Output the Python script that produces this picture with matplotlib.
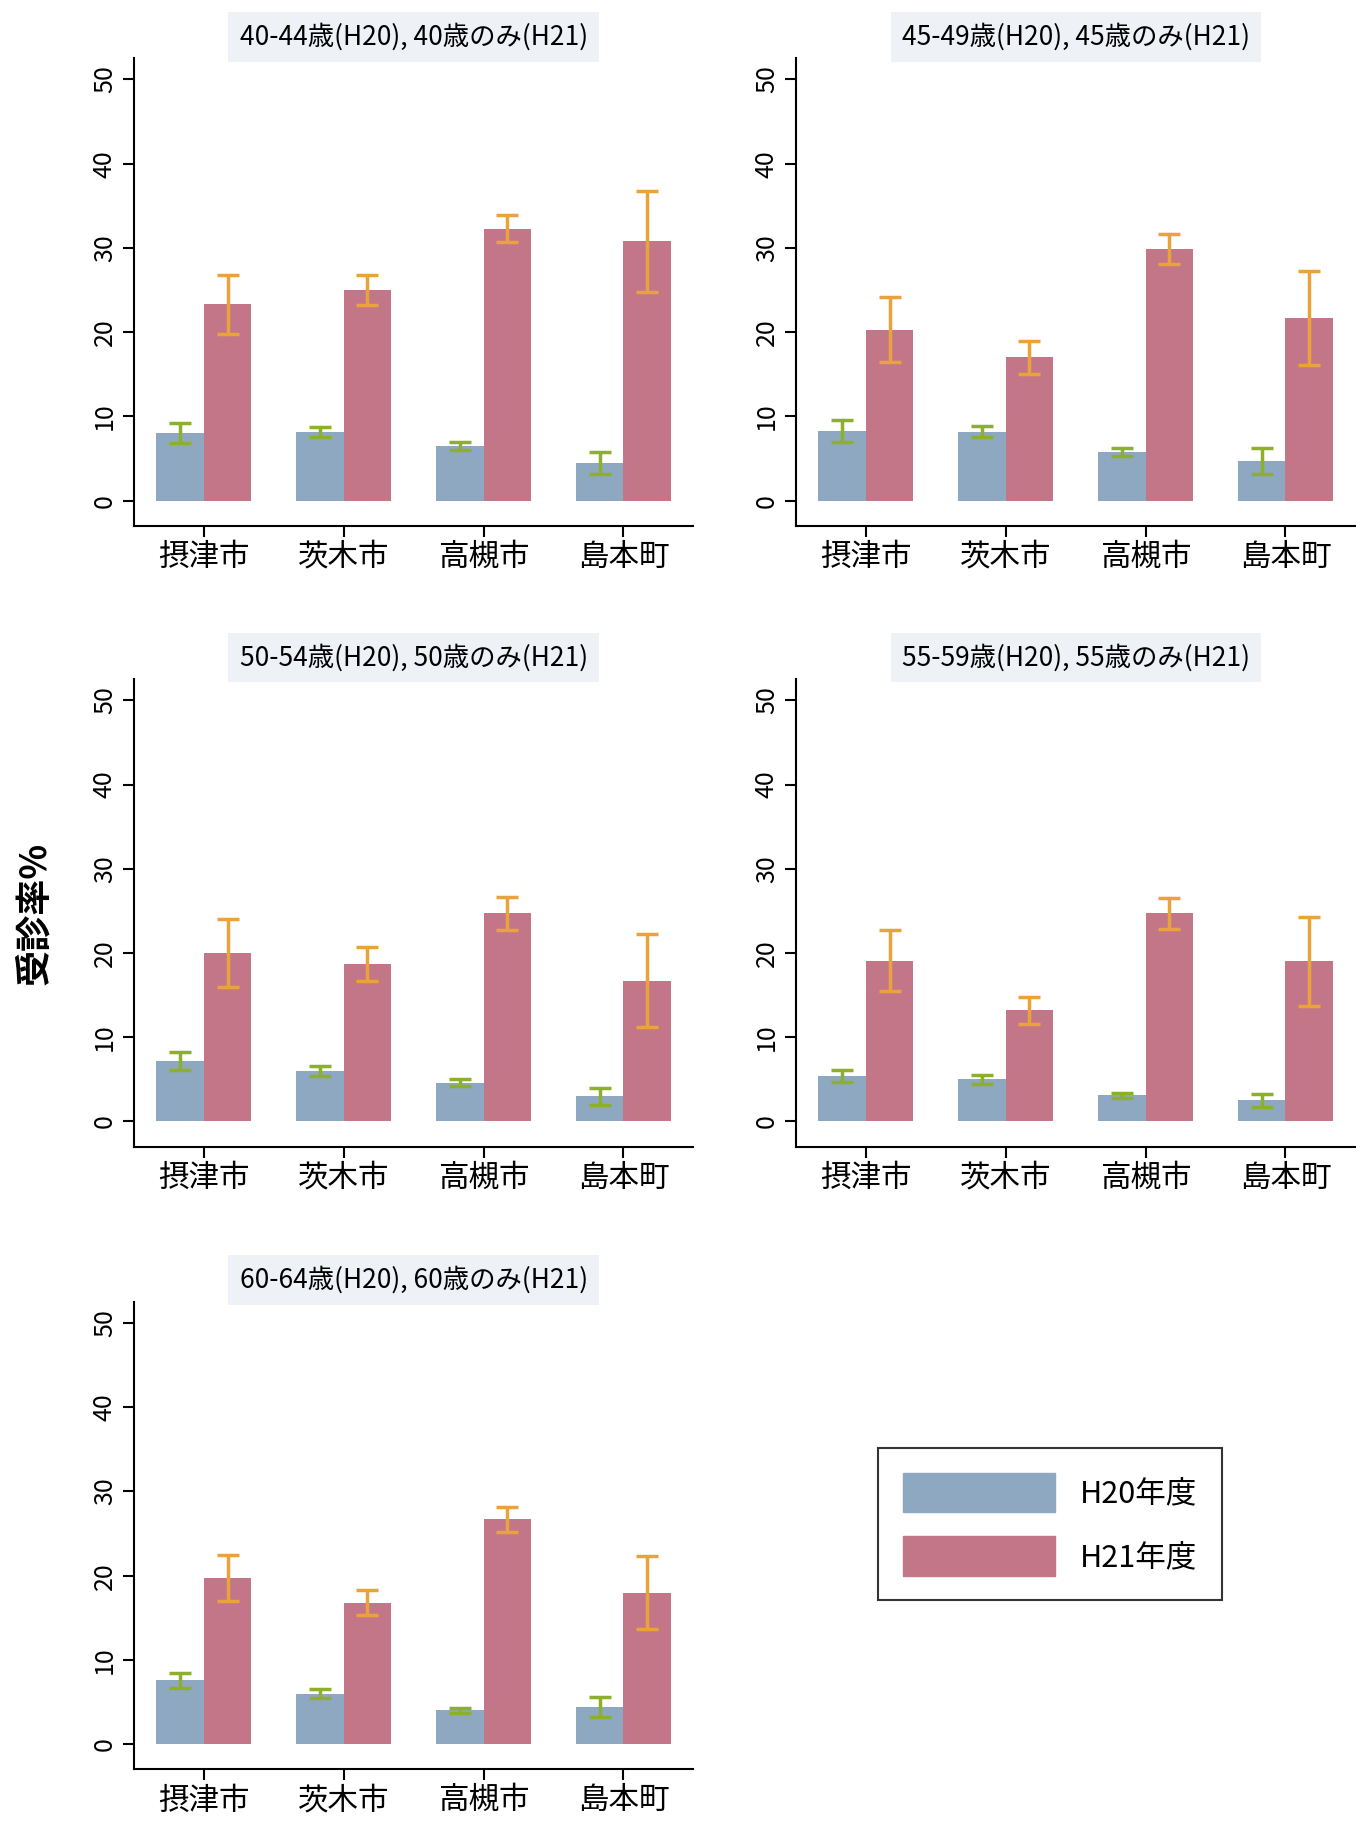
import numpy as np
import matplotlib.pyplot as plt

plt.rcParams['font.family'] = ['Noto Sans CJK JP', 'DejaVu Sans']

cities = ['摂津市', '茨木市', '高槻市', '島本町']
titles = ['40-44歳(H20), 40歳のみ(H21)', '45-49歳(H20), 45歳のみ(H21)',
          '50-54歳(H20), 50歳のみ(H21)', '55-59歳(H20), 55歳のみ(H21)',
          '60-64歳(H20), 60歳のみ(H21)']
h20 = [[8.0, 8.2, 6.5, 4.5], [8.3, 8.2, 5.8, 4.7], [7.2, 6.0, 4.6, 3.0],
       [5.4, 5.0, 3.1, 2.5], [7.6, 6.0, 4.0, 4.4]]
h20_err = [[1.2, 0.6, 0.5, 1.3], [1.3, 0.7, 0.5, 1.5], [1.1, 0.6, 0.4, 1.0],
           [0.7, 0.5, 0.3, 0.8], [0.9, 0.5, 0.3, 1.2]]
h21 = [[23.3, 25.0, 32.3, 30.8], [20.3, 17.0, 29.9, 21.7], [20.0, 18.7, 24.7, 16.7],
       [19.1, 13.2, 24.7, 19.0], [19.7, 16.8, 26.7, 18.0]]
h21_err = [[3.5, 1.8, 1.6, 6.0], [3.9, 2.0, 1.8, 5.6], [4.0, 2.0, 2.0, 5.5],
           [3.6, 1.6, 1.8, 5.3], [2.7, 1.5, 1.5, 4.3]]

c20, c21 = '#8fa8c2', '#c47689'
e20, e21 = '#8cb02c', '#eaa23a'

fig = plt.figure(figsize=(13.65, 18.26), dpi=100)
pos = [(0.098, 0.712), (0.583, 0.712), (0.098, 0.372), (0.583, 0.372), (0.098, 0.031)]
x = np.arange(4)
w = 0.34
for i in range(5):
    ax = fig.add_axes([pos[i][0], pos[i][1], 0.41, 0.256])
    ax.bar(x - w / 2, h20[i], w, color=c20, yerr=h20_err[i],
           error_kw=dict(ecolor=e20, capsize=8, elinewidth=2.5, capthick=2.5))
    ax.bar(x + w / 2, h21[i], w, color=c21, yerr=h21_err[i],
           error_kw=dict(ecolor=e21, capsize=8, elinewidth=2.5, capthick=2.5))
    ax.set_xlim(-0.5, 3.5)
    ax.set_ylim(-3, 52.5)
    ax.set_yticks([0, 10, 20, 30, 40, 50])
    ax.tick_params(axis='y', labelrotation=90, labelsize=18, length=8, width=1.5)
    for t in ax.get_yticklabels():
        t.set_va('center')
    ax.set_xticks(x)
    ax.set_xticklabels(cities, fontsize=22)
    ax.tick_params(axis='x', length=8, width=1.5)
    for s in ['top', 'right']:
        ax.spines[s].set_visible(False)
    for s in ['left', 'bottom']:
        ax.spines[s].set_linewidth(1.5)
    ax.set_title(titles[i], fontsize=19, pad=10,
                 bbox=dict(facecolor='#eef1f6', edgecolor='none', pad=8))

fig.text(0.025, 0.5, '受診率%', rotation=90, fontsize=26, fontweight='bold',
         va='center', ha='center')

lax = fig.add_axes([0.583, 0.031, 0.41, 0.256])
lax.axis('off')
h_a = plt.Rectangle((0, 0), 1, 1, color=c20)
h_b = plt.Rectangle((0, 0), 1, 1, color=c21)
leg = lax.legend([h_a, h_b], ['H20年度', 'H21年度'], loc='upper left',
                 bbox_to_anchor=(0.12, 0.72), fontsize=22, handlelength=5,
                 handleheight=1.6, fancybox=False, edgecolor='black',
                 borderpad=0.8, labelspacing=0.8)
leg.get_frame().set_linewidth(1.5)

fig.savefig('out.png')
